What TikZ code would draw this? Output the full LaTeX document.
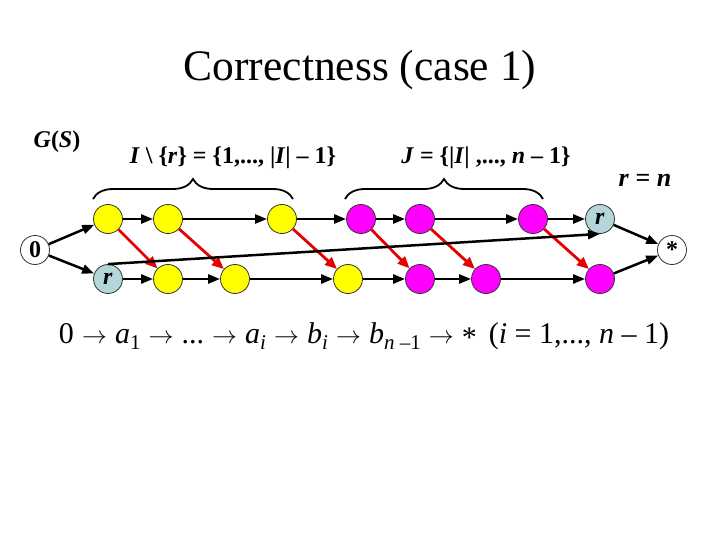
\documentclass[tikz,border=0pt]{standalone}
\usepackage{fontspec}
\setmainfont{Liberation Serif}
\usetikzlibrary{arrows.meta,decorations.pathreplacing}
\definecolor{nyel}{RGB}{255,255,0}
\definecolor{nmag}{RGB}{255,0,255}
\definecolor{nblu}{RGB}{180,214,218}
\definecolor{ered}{RGB}{230,0,0}
\newcommand{\sbs}[1]{\raisebox{-0.45ex}{\fontsize{21}{21}\selectfont #1}}
\newcommand{\arr}{\hspace{0.27em}{\fontsize{25}{25}\selectfont$\rightarrow$}\hspace{0.27em}}
\begin{document}
\begin{tikzpicture}[x=1pt,y=-1pt,
  vert/.style={circle,draw=black!80,line width=0.8pt,minimum size=29pt,inner sep=0pt,font=\fontsize{24}{24}\selectfont\bfseries},
  yv/.style={vert,fill=nyel},
  mv/.style={vert,fill=nmag},
  bv/.style={vert,fill=nblu},
  wv/.style={vert,fill=white},
  blk/.style={line width=2.5pt,-{Triangle[length=12pt,width=9pt]}},
  rdk/.style={line width=2.8pt,draw=ered,-{Triangle[length=12pt,width=10pt]},ered},
  brc/.style={decorate,decoration={brace,amplitude=20pt},line width=1.8pt},
  lbl/.style={font=\fontsize{24}{24}\selectfont\bfseries}
]
\useasboundingbox (0,0) rectangle (720,540);
\node (title) at (360,70) {\fontsize{43.5}{43.5}\selectfont Correctness (case 1)};
\node[lbl] (gs) at (57,142) {\textit{G}(\textit{S})};
\node[lbl] (il) at (233,158) {\textit{I} \textbackslash\ \{\textit{r}\} = \{1,..., |\textit{I}| – 1\}};
\node[lbl] (jl) at (486,158) {\textit{J} = \{|\textit{I}| ,..., \textit{n} – 1\}};
\node[lbl,font=\fontsize{26}{26}\selectfont\bfseries] (rn) at (645,180) {\textit{r} = \textit{n}};

\node[wv] (n0) at (35,250) {0};
\node[yv] (a1) at (108,219) {};
\node[yv] (a2) at (168,219) {};
\node[yv] (a3) at (282,219) {};
\node[mv] (a4) at (361,219) {};
\node[mv] (a5) at (420,219) {};
\node[mv] (a6) at (533,219) {};
\node[bv] (rt) at (600,219) {\textit{r}};
\node[bv] (rb) at (108,279) {\textit{r}};
\node[yv] (b1) at (168,279) {};
\node[yv] (b2) at (235,279) {};
\node[yv] (b3) at (348,279) {};
\node[mv] (b4) at (420,279) {};
\node[mv] (b5) at (486,279) {};
\node[mv] (b6) at (600,279) {};
\node[wv] (st) at (672,250) {\raisebox{-0.35ex}{*}};

\draw[blk] (n0) -- (a1);
\draw[blk] (n0) -- (rb);
\foreach \u/\v in {a1/a2,a2/a3,a3/a4,a4/a5,a5/a6,a6/rt,rb/b1,b1/b2,b2/b3,b3/b4,b4/b5,b5/b6}
  \draw[blk] (\u) -- (\v);
\draw[blk] (rt) -- (st);
\draw[blk] (b6) -- (st);
\foreach \u/\v in {a1/b1,a2/b2,a3/b3,a4/b4,a5/b5,a6/b6}
  \draw[rdk] (\u) -- (\v);
\draw[blk] (rb.north) -- (rt.south);

\draw[brc] (93,199) -- (293,199);
\draw[brc] (345,199) -- (543,199);

\node (fm) at (364,336) {\fontsize{30}{30}\selectfont 0\arr\textit{a}\sbs{1}\arr...\arr\textit{a}\sbs{\textit{i}}\arr\textit{b}\sbs{\textit{i}}\arr\textit{b}\sbs{\textit{n} –1}\arr\raisebox{-0.3ex}{*}\hspace{0.4em}(\textit{i} = 1,..., \textit{n} – 1)};
\end{tikzpicture}
\end{document}
